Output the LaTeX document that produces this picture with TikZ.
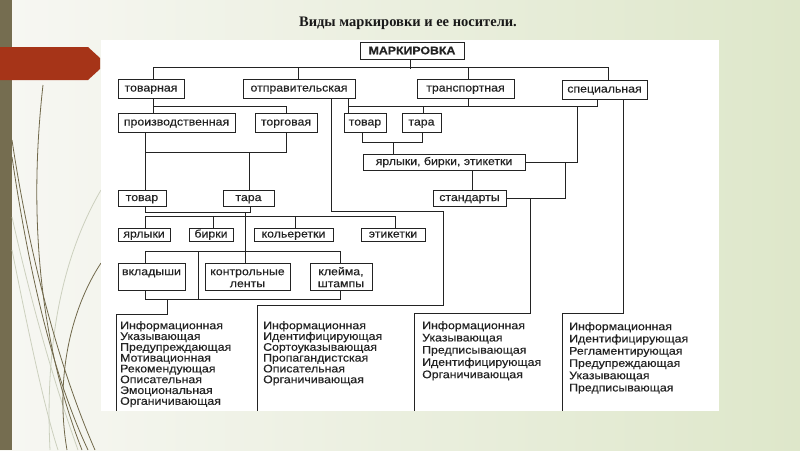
\documentclass[tikz,border=0pt]{standalone}
\usepackage{fontspec}
\newfontfamily\dgfam[FakeStretch=1.12,FakeBold=0.35]{Liberation Sans}
\newfontfamily\ttlfam{Liberation Serif}
\newcommand{\mydg}{\dgfam\fontsize{11pt}{12pt}\selectfont}
\definecolor{bgL}{RGB}{247,247,243}
\definecolor{bgR}{RGB}{222,231,202}
\definecolor{barc}{RGB}{117,109,80}
\definecolor{redc}{RGB}{166,52,24}
\definecolor{curvd}{RGB}{112,104,74}
\definecolor{curvl}{RGB}{204,208,190}
\definecolor{linec}{RGB}{35,35,35}
\tikzset{
  ln/.style={draw=linec, line width=1pt},
  box/.style={draw=linec, line width=1pt, inner sep=0pt, fill=white, font=\mydg, text=linec},
  sbox/.style={box, text height=7pt, text depth=1pt},
  coltext/.style={align=left, inner sep=0pt, anchor=north west, text=linec},
}
\begin{document}
\begin{tikzpicture}[x=1pt,y=-1pt]
\useasboundingbox (0,0) rectangle (800,450);
% background
\shade[left color=bgL, right color=bgR] (0,0) rectangle (800,450);
\fill[barc] (0,0) rectangle (12,450);
% decorative curves
\draw[curvl, line width=0.8pt] (101,190) .. controls (60,260) and (45,350) .. (50,450);
\draw[curvl, line width=0.8pt] (12,217) .. controls (35,320) and (60,400) .. (78,450);
\draw[curvl, line width=0.8pt] (12,250) .. controls (30,340) and (45,410) .. (58,450);
\draw[curvd, line width=0.8pt] (43,85) .. controls (30,200) and (35,330) .. (82,450);
\draw[curvd, line width=0.8pt] (12,140) .. controls (30,260) and (60,370) .. (95,450);
\draw[curvd, line width=0.8pt] (12,157) .. controls (30,280) and (55,380) .. (88,450);
\draw[curvd, line width=0.8pt] (101,263) .. controls (70,310) and (55,380) .. (67,450);
% red arrow
\fill[redc] (0,47) -- (88,47) -- (100,58) -- (100,69) -- (88,80) -- (0,80) -- cycle;
% white picture area
\fill[white] (101,40) rectangle (719,411);
% title
\node[font={\ttlfam\bfseries\fontsize{14.5pt}{16pt}\selectfont}, text=black!90] (title) at (408,23) {Виды маркировки и ее носители.};
% boxes
\node[box, text height=7.5pt, text depth=0pt, font={\mydg\bfseries}, minimum width=104pt, minimum height=17pt] (mark) at (412,50.5) {МАРКИРОВКА};
\node[sbox, minimum width=66pt, minimum height=19pt] (t1) at (151,88.5) {товарная};
\node[sbox, minimum width=112pt, minimum height=19pt] (t2) at (299,88.5) {отправительская};
\node[sbox, minimum width=97pt, minimum height=19pt] (t3) at (465.5,88.5) {транспортная};
\node[sbox, minimum width=85pt, minimum height=19pt] (t4) at (604.5,89.5) {специальная};
\node[sbox, minimum width=117pt, minimum height=19pt] (proiz) at (176.5,122.5) {производственная};
\node[sbox, minimum width=62pt, minimum height=19pt] (torg) at (286,122.5) {торговая};
\node[sbox, minimum width=42pt, minimum height=19pt] (tovR) at (365,122.5) {товар};
\node[sbox, minimum width=39pt, minimum height=19pt] (taraR) at (421.5,122.5) {тара};
\node[sbox, minimum width=162pt, minimum height=16pt] (ybe) at (444,162) {ярлыки, бирки, этикетки};
\node[sbox, minimum width=73pt, minimum height=16pt] (stand) at (469.5,198) {стандарты};
\node[sbox, minimum width=48pt, minimum height=16pt] (tovL) at (142,198) {товар};
\node[sbox, minimum width=51pt, minimum height=16pt] (taraL) at (248.5,198) {тара};
\node[sbox, minimum width=52pt, minimum height=13pt] (yarl) at (144,234.5) {ярлыки};
\node[sbox, minimum width=44pt, minimum height=13pt] (birk) at (211,234.5) {бирки};
\node[sbox, minimum width=79pt, minimum height=13pt] (koll) at (293.5,234.5) {кольеретки};
\node[sbox, minimum width=64pt, minimum height=13pt] (etik) at (393,234.5) {этикетки};
\node[box, align=center, minimum width=67pt, minimum height=27pt] (vkl) at (151.5,276.5) {\rule{0pt}{9.5pt}вкладыши\\\phantom{ленты}};
\node[box, align=center, minimum width=85pt, minimum height=27pt] (kontr) at (247.5,276.5) {\rule{0pt}{9.5pt}контрольные\\ленты};
\node[box, align=center, minimum width=62pt, minimum height=27pt] (kleim) at (341,276.5) {\rule{0pt}{9.5pt}клейма,\\штампы};
% junction coordinates
\coordinate (j198t) at (198,252);
\coordinate (j198b) at (198,299);
\coordinate (j167) at (167,299);
\coordinate (c1) at (116,411);
\coordinate (j443) at (443,211);
\coordinate (j443b) at (443,305);
\coordinate (c2) at (257,411);
\coordinate (j577) at (577,106);
\coordinate (j565) at (565,162);
\coordinate (j530) at (530,198);
\coordinate (j530b) at (530,313);
\coordinate (c3) at (414,411);
\coordinate (j562) at (562,313);
\coordinate (c4) at (562,411);
% connectors
\draw[ln] ([xshift=-2pt]mark.south) -- ++(0,9);
\draw[ln] ([xshift=2pt]t1.north) -- ++(0,-11) -| ([xshift=3.5pt]t4.north);
\draw[ln] ([xshift=-1pt]t2.north) -- ++(0,-11);
\draw[ln] ([xshift=2.5pt]t3.north) -- ++(0,-11);
\draw[ln] ([xshift=2pt]t1.south) -- ([xshift=-23.5pt]proiz.north);
\draw[ln] ([xshift=2pt]t1.south) ++(0,8) -| (torg.north);
\draw[ln] ([xshift=-31.5pt]proiz.south) -- ([xshift=3pt]tovL.north);
\draw[ln] (torg.south) -- ++(0,20) -| ([xshift=-31.5pt]proiz.south);
\draw[ln] ([xshift=0.5pt]taraL.north) -- ++(0,-38);
\draw[ln] ([xshift=3pt]tovL.south) -- ++(0,6) -| ([xshift=1.5pt]taraL.south);
\draw[ln] ([xshift=-2.5pt]kontr.north) -- ++(0,-51);
\draw[ln] ([xshift=1pt]yarl.north) -- ++(0,-11) -| ([xshift=2pt]etik.north);
\draw[ln] ([xshift=2pt]birk.north) -- ++(0,-11);
\draw[ln] ([xshift=1.5pt]koll.north) -- ++(0,-11);
\draw[ln] ([xshift=-6.5pt]vkl.north) -- ++(0,-11) -| ([xshift=-1pt]kleim.north);
\draw[ln] ([xshift=-6.5pt]vkl.south) -- ++(0,9) -| ([xshift=-1pt]kleim.south);
\draw[ln] (j198t) -- (j198b);
\draw[ln] (j167) -- ++(0,15) -| (c1);
\draw[ln] ([xshift=32pt]t2.south) |- (j443) -- (j443b) -| (c2);
\draw[ln] ([xshift=49pt]t2.south) -- ([xshift=-17pt]tovR.north);
\draw[ln] ([xshift=49pt]t2.south) ++(0,8) -| ([xshift=-7.5pt]t4.south);
\draw[ln] ([xshift=1.5pt]taraR.north) -- ++(0,-7);
\draw[ln] ([xshift=2.5pt]t3.south) -- ++(0,8);
\draw[ln] (j577) |- (ybe.east);
\draw[ln] ([xshift=-3pt]tovR.south) -- ++(0,10) -| ([xshift=0.5pt]taraR.south);
\draw[ln] ([xshift=-51pt]ybe.north) -- ++(0,-12);
\draw[ln] ([xshift=28pt]ybe.south) -- ([xshift=2.5pt]stand.north);
\draw[ln] (stand.east) -| (j565);
\draw[ln] (j530) -- (j530b) -| (c3);
\draw[ln] ([xshift=18.5pt]t4.south) |- (j562) -- (c4);
% column texts
\node[coltext, font={\dgfam\fontsize{11pt}{10.8pt}\selectfont}] (col1) at (120,321) {Информационная\\Указывающая\\Предупреждающая\\Мотивационная\\Рекомендующая\\Описательная\\Эмоциональная\\Органичивающая};
\node[coltext, font={\dgfam\fontsize{11pt}{10.8pt}\selectfont}] (col2) at (263,321) {Информационная\\Идентифицирующая\\Сортоуказывающая\\Пропагандистская\\Описательная\\Органичивающая};
\node[coltext, font={\dgfam\fontsize{11pt}{12.25pt}\selectfont}] (col3) at (422,321) {Информационная\\Указывающая\\Предписывающая\\Идентифицирующая\\Органичивающая};
\node[coltext, font={\dgfam\fontsize{11pt}{12.25pt}\selectfont}] (col4) at (569,322) {Информационная\\Идентифицирующая\\Регламентирующая\\Предупреждающая\\Указывающая\\Предписывающая};
\end{tikzpicture}
\end{document}
